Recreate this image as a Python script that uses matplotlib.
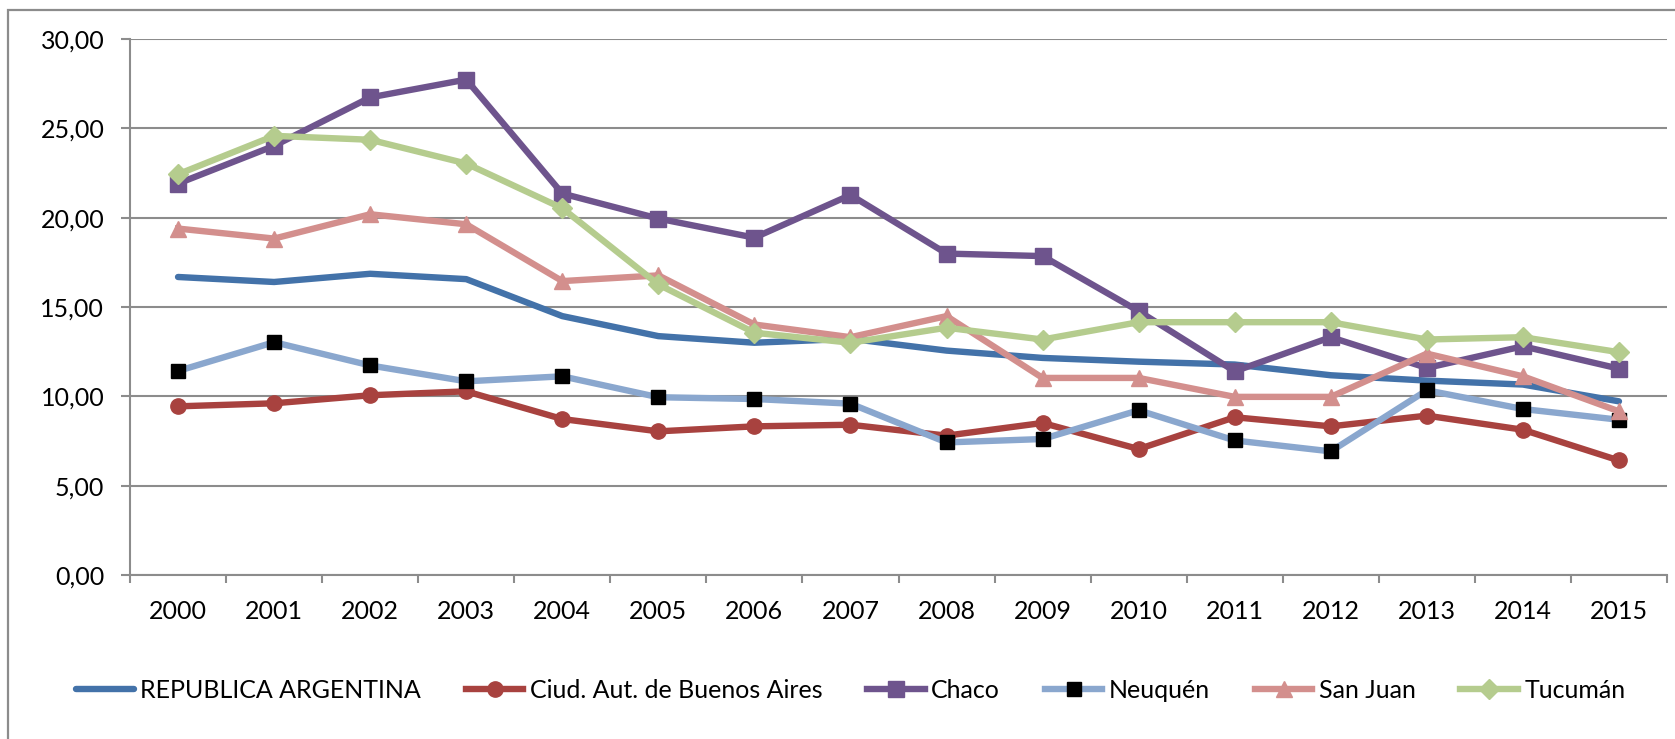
import numpy as np
import matplotlib.pyplot as plt
from matplotlib.patches import Rectangle

years = [str(y) for y in range(2000, 2016)]

argentina = [16.68, 16.40, 16.86, 16.56, 14.49, 13.37, 13.00, 13.22, 12.56, 12.15,
             11.94, 11.78, 11.18, 10.88, 10.66, 9.72]
caba = [9.44, 9.61, 10.06, 10.28, 8.73, 8.04, 8.32, 8.41, 7.80, 8.51,
        7.05, 8.83, 8.32, 8.92, 8.13, 6.41]
chaco = [21.91, 24.02, 26.73, 27.73, 21.35, 19.95, 18.88, 21.27, 17.99, 17.85,
         14.77, 11.40, 13.31, 11.59, 12.80, 11.55]
neuquen = [11.42, 13.03, 11.73, 10.84, 11.12, 9.95, 9.85, 9.59, 7.42, 7.61,
           9.22, 7.53, 6.92, 10.34, 9.29, 8.69]
san_juan = [19.39, 18.83, 20.19, 19.63, 16.45, 16.77, 14.02, 13.31, 14.49, 11.03,
            11.03, 9.97, 9.97, 12.39, 11.12, 9.16]
tucuman = [22.43, 24.58, 24.36, 23.03, 20.53, 16.26, 13.56, 13.00, 13.84, 13.18,
           14.15, 14.15, 14.15, 13.18, 13.31, 12.47]

labels = ['REPUBLICA ARGENTINA', 'Ciud. Aut. de Buenos Aires', 'Chaco',
          'Neuquén', 'San Juan', 'Tucumán']

plt.rcParams['font.family'] = ['Lato', 'DejaVu Sans']

fig = plt.figure(figsize=(16.75, 7.39), dpi=100)
ax = fig.add_axes([130 / 1675, 1 - 575 / 739, (1667 - 130) / 1675, (575 - 39) / 739])

# outer chart-area border (runs off the right/bottom edge)
fig.patches.append(Rectangle((7.5 / 1675, -0.05), 1.2, 1 - 10 / 739 + 0.05,
                             transform=fig.transFigure, fill=False,
                             edgecolor='#8c8c8c', linewidth=1.6, zorder=0))

x = np.arange(len(years))
lw = 4.6
ax.plot(x, argentina, color='#4372a9', lw=lw, solid_capstyle='round', label=labels[0], zorder=3)
ax.plot(x, caba, color='#a8423f', lw=lw, marker='o', ms=11, label=labels[1], zorder=4)
ax.plot(x, chaco, color='#6e548d', lw=lw, marker='s', ms=11, label=labels[2], zorder=4)
ax.plot(x, neuquen, color='#8aa7ce', lw=lw, marker='s', ms=10,
        mfc='black', mec='black', label=labels[3], zorder=4)
ax.plot(x, san_juan, color='#d38f8d', lw=lw, marker='^', ms=12, label=labels[4], zorder=4)
ax.plot(x, tucuman, color='#b5cc8e', lw=lw, marker='D', ms=10, label=labels[5], zorder=4)

ax.set_xlim(-0.5, len(years) - 0.5)
ax.set_ylim(0, 30)
ax.set_yticks(np.arange(0, 31, 5))
ax.set_yticklabels([f'{v:.2f}'.replace('.', ',') for v in np.arange(0, 31, 5)])
ax.set_xticks(x)
ax.set_xticklabels(years)
ax.set_xticks(np.arange(-0.5, len(years)), minor=True)

ax.grid(axis='y', color='#8c8c8c', lw=1.5, zorder=0)
ax.set_axisbelow(True)
for s in ['top', 'right']:
    ax.spines[s].set_visible(False)
for s in ['left', 'bottom']:
    ax.spines[s].set_color('#8c8c8c')
    ax.spines[s].set_linewidth(1.5)

ax.tick_params(axis='y', length=6.5, width=1.5, color='#8c8c8c', pad=12, labelsize=18)
ax.tick_params(axis='x', which='major', length=0, pad=18, labelsize=18)
ax.tick_params(axis='x', which='minor', length=6, width=1.5, color='#8c8c8c')

fig.legend(loc='center', bbox_to_anchor=(0.508, 1 - 690 / 739), ncol=6, frameon=False,
           fontsize=18, handlelength=2.3, handletextpad=0.25, columnspacing=1.8,
           borderaxespad=0)

fig.savefig('out.png', dpi=100)
